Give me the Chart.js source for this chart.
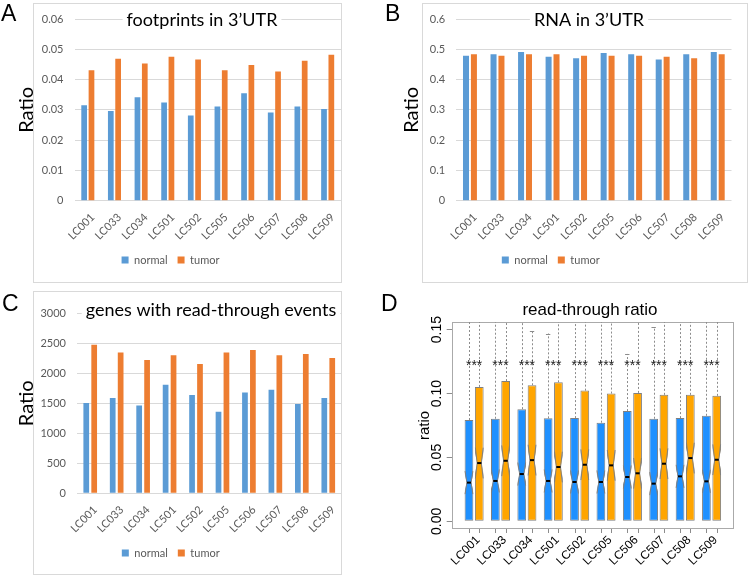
<!DOCTYPE html>
<html><head><meta charset="utf-8">
<script src="https://cdn.jsdelivr.net/npm/chart.js@4.4.0/dist/chart.umd.min.js"></script>
<style>
html,body{margin:0;padding:0;background:#fff;}
body{width:749px;height:577px;position:relative;overflow:hidden;}
canvas{position:absolute;}
.lbl{position:absolute;font-family:"Liberation Sans",Arial,sans-serif;font-size:23px;color:#000;line-height:1;}
</style></head><body>
<canvas id="cA" width="370" height="290" style="left:0;top:0"></canvas>
<canvas id="cB" width="379" height="290" style="left:370px;top:0"></canvas>
<canvas id="cC" width="370" height="287" style="left:0;top:290px"></canvas>
<canvas id="cD" width="379" height="287" style="left:370px;top:290px"></canvas>
<div class="lbl" style="left:1px;top:2px">A</div>
<div class="lbl" style="left:385px;top:2px">B</div>
<div class="lbl" style="left:2px;top:292px">C</div>
<div class="lbl" style="left:381px;top:292px">D</div>
<script>
// ---------- data ----------
const categories = ['LC001','LC033','LC034','LC501','LC502','LC505','LC506','LC507','LC508','LC509'];
const seriesNames = ['normal','tumor'];

const footNormal = [0.0315,0.0296,0.0342,0.0324,0.0281,0.0311,0.0355,0.0291,0.0311,0.0303];
const footTumor  = [0.0431,0.0469,0.0453,0.0475,0.0466,0.0431,0.0448,0.0427,0.0462,0.0482];
const rnaNormal  = [0.479,0.4835,0.491,0.475,0.470,0.488,0.4835,0.466,0.4835,0.491];
const rnaTumor   = [0.4835,0.479,0.4835,0.4835,0.479,0.479,0.479,0.475,0.470,0.4835];
const genesNormal = [1505,1590,1465,1810,1640,1360,1680,1725,1490,1590];
const genesTumor  = [2475,2345,2220,2300,2155,2345,2390,2300,2320,2255];

const ticksA = ['0','0.01','0.02','0.03','0.04','0.05','0.06'];
const ticksB = ['0','0.1','0.2','0.3','0.4','0.5','0.6'];
const ticksC = ['0','500','1000','1500','2000','2500','3000'];
const ticksD = ['0.00','0.05','0.10','0.15'];

// read-through ratio boxplots
const rtNormalQ1  = [0,0,0,0,0,0,0,0,0,0];
const rtNormalMed = [0.0303,0.0316,0.0370,0.0316,0.0308,0.0308,0.0347,0.0295,0.0352,0.0313];
const rtNormalQ3  = [0.0793,0.0803,0.0878,0.0806,0.0808,0.0772,0.0863,0.0803,0.0808,0.0826];
const rtNormalWhisker = [0.17,0.17,0.17,0.147,0.17,0.17,0.131,0.152,0.17,0.17];
const rtTumorQ1   = [0,0,0,0,0,0,0,0,0,0];
const rtTumorMed  = [0.0456,0.0474,0.0479,0.0425,0.0443,0.0438,0.0376,0.0451,0.0495,0.0482];
const rtTumorQ3   = [0.1052,0.1098,0.1065,0.1088,0.1023,0.1000,0.1005,0.0990,0.0990,0.0982];
const rtTumorWhisker = [0.17,0.17,0.149,0.17,0.17,0.17,0.17,0.17,0.17,0.17];
const notchNormal = 0.009;
const notchTumor = 0.012;
const sigLabels = ['***','***','***','***','***','***','***','***','***','***'];
const sigLevel = 0.125;

// ---------- styling ----------
const FX = 'Lato, "Open Sans", sans-serif';
const FR = '"Liberation Sans", Arial, sans-serif';
const GRAY = '#595959';

const decorPlugin = {
  id: 'decor',
  beforeDraw(chart, args, o) {
    const ctx = chart.ctx;
    ctx.save();
    ctx.fillStyle = '#fff';
    ctx.fillRect(0, 0, chart.width, chart.height);
    if (o.frame) {
      const a = chart.chartArea;
      const f = o.frame === 'area' ? [a.left, a.top, a.right, a.bottom] : o.frame;
      ctx.strokeStyle = o.frameColor || '#D9D9D9';
      ctx.lineWidth = 1;
      ctx.strokeRect(Math.round(f[0]) + 0.5, Math.round(f[1]) + 0.5, Math.round(f[2] - f[0]) - 1, Math.round(f[3] - f[1]) - 1);
    }
    ctx.restore();
  },
  afterDraw(chart, args, o) {
    if (!o.title) return;
    const ctx = chart.ctx;
    ctx.save();
    ctx.font = o.titleFont;
    const w = ctx.measureText(o.title).width;
    if (o.titleBg) {
      ctx.fillStyle = '#fff';
      ctx.fillRect(o.titleX - w / 2 - 4, o.titleY - o.titleSize, w + 8, o.titleSize * 1.25);
    }
    ctx.fillStyle = '#000';
    ctx.textAlign = 'center';
    ctx.textBaseline = 'alphabetic';
    ctx.fillText(o.title, o.titleX, o.titleY);
    ctx.restore();
  }
};

const boxPlugin = {
  id: 'boxplot',
  afterDatasetsDraw(chart, args, o) {
    if (!o.groups) return;
    const ctx = chart.ctx, ys = chart.scales.y, xs = chart.scales.x, area = chart.chartArea;
    o.groups.forEach((g, di) => {
      const meta = chart.getDatasetMeta(di);
      meta.data.forEach((el, i) => {
        const w = el.width, cx = el.x, L = cx - w / 2, R = cx + w / 2;
        const yM = ys.getPixelForValue(g.med[i]);
        const yT = ys.getPixelForValue(g.med[i] + g.notch);
        const yB = ys.getPixelForValue(g.med[i] - g.notch);
        const inn = w * 0.24;
        ctx.save();
        ctx.fillStyle = '#fff';
        ctx.beginPath(); ctx.moveTo(L - 1, yT); ctx.lineTo(cx - inn, yM); ctx.lineTo(L - 1, yB); ctx.closePath(); ctx.fill();
        ctx.beginPath(); ctx.moveTo(R + 1, yT); ctx.lineTo(cx + inn, yM); ctx.lineTo(R + 1, yB); ctx.closePath(); ctx.fill();
        ctx.strokeStyle = '#808080'; ctx.lineWidth = 1;
        ctx.beginPath(); ctx.moveTo(L + 0.5, yT); ctx.lineTo(cx - inn, yM); ctx.lineTo(L + 0.5, yB); ctx.stroke();
        ctx.beginPath(); ctx.moveTo(R - 0.5, yT); ctx.lineTo(cx + inn, yM); ctx.lineTo(R - 0.5, yB); ctx.stroke();
        ctx.strokeStyle = '#000'; ctx.lineWidth = 2;
        ctx.beginPath(); ctx.moveTo(cx - inn, yM); ctx.lineTo(cx + inn, yM); ctx.stroke();
        // whisker
        ctx.beginPath(); ctx.rect(area.left, area.top, area.right - area.left, area.bottom - area.top); ctx.clip();
        const yW = ys.getPixelForValue(g.whisker[i]);
        const px = Math.round(cx) + 0.5;
        ctx.strokeStyle = '#8c8c8c'; ctx.lineWidth = 1; ctx.setLineDash([2, 2]);
        ctx.beginPath(); ctx.moveTo(px, el.y); ctx.lineTo(px, yW); ctx.stroke();
        ctx.setLineDash([]);
        ctx.beginPath(); ctx.moveTo(cx - w / 4, Math.round(yW) + 0.5); ctx.lineTo(cx + w / 4, Math.round(yW) + 0.5); ctx.stroke();
        ctx.restore();
        // tick mark under the box
        ctx.save();
        ctx.strokeStyle = '#8c8c8c'; ctx.lineWidth = 1;
        ctx.beginPath(); ctx.moveTo(px, area.bottom); ctx.lineTo(px, area.bottom + 4); ctx.stroke();
        ctx.restore();
      });
    });
    // significance stars
    ctx.save();
    ctx.font = '14px ' + FR;
    ctx.fillStyle = '#222';
    ctx.textAlign = 'center';
    ctx.textBaseline = 'alphabetic';
    const ySig = ys.getPixelForValue(o.sigLevel);
    o.sig.forEach((s, i) => ctx.fillText(s, xs.getPixelForValue(i), ySig + 8));
    ctx.restore();
  }
};

function excelChart(id, normal, tumor, tickLabels, yMax, step, g) {
  return new Chart(document.getElementById(id), {
    type: 'bar',
    data: {
      labels: categories,
      datasets: [
        { label: seriesNames[0], data: normal, backgroundColor: '#5B9BD5', borderWidth: 0,
          categoryPercentage: g.catPct, barPercentage: g.barPct },
        { label: seriesNames[1], data: tumor, backgroundColor: '#ED7D31', borderWidth: 0,
          categoryPercentage: g.catPct, barPercentage: g.barPct }
      ]
    },
    options: {
      responsive: false, animation: false, devicePixelRatio: 1,
      layout: { padding: { left: 0, top: g.top, right: g.W - g.right, bottom: g.padB } },
      plugins: {
        legend: { position: 'bottom', labels: { boxWidth: 7, boxHeight: 7, padding: 10, color: GRAY, font: { family: FX, size: 11 } } },
        tooltip: { enabled: false },
        decor: { frame: g.frame, title: g.title, titleX: g.titleX, titleY: g.titleY, titleSize: 18,
                 titleFont: '18px ' + FX, titleBg: true }
      },
      scales: {
        x: {
          grid: { display: false, drawTicks: false }, border: { display: false },
          ticks: { minRotation: 45, maxRotation: 45, autoSkip: false, color: GRAY, font: { family: FX, size: 11 },
                   padding: g.labelPad, labelOffset: g.labelOffset },
          afterFit(s) { s.height = g.xh; }
        },
        y: {
          min: 0, max: yMax,
          ticks: { stepSize: step, color: GRAY, font: { family: FX, size: 11 }, padding: 11,
                   callback: (v) => tickLabels[Math.round(v / step)] },
          grid: { color: '#D9D9D9', drawTicks: false },
          border: { display: false },
          title: { display: true, text: 'Ratio', color: '#000', font: { family: FX, size: 20 },
                   padding: { top: g.ratioPad, bottom: 0 } },
          afterFit(s) { s.width = g.left; }
        }
      }
    },
    plugins: [decorPlugin]
  });
}

function build() {
  excelChart('cA', footNormal, footTumor, ticksA, 0.06, 0.01, {
    W: 370, left: 74.5, right: 341, top: 19, padB: 14.5, xh: 43.8,
    catPct: 0.55, barPct: 0.78, labelPad: 10, labelOffset: 5, ratioPad: 15,
    frame: [33, 3, 342, 283], title: 'footprints in 3\u2019UTR', titleX: 202, titleY: 26
  });
  excelChart('cB', rnaNormal, rnaTumor, ticksB, 0.6, 0.1, {
    W: 379, left: 86.2, right: 361.5, top: 19, padB: 14.5, xh: 43.8,
    catPct: 0.575, barPct: 0.76, labelPad: 10, labelOffset: 5, ratioPad: 29.5,
    frame: [51.5, 3, 377, 283], title: 'RNA in 3\u2019UTR', titleX: 219, titleY: 26
  });
  excelChart('cC', genesNormal, genesTumor, ticksC, 3000, 500, {
    W: 370, left: 77, right: 341.5, top: 23.3, padB: 8.5, xh: 44.2,
    catPct: 0.6, barPct: 0.72, labelPad: 10, labelOffset: 5, ratioPad: 14.7,
    frame: [33, 1, 342, 285], title: 'genes with read-through events', titleX: 211, titleY: 26
  });

  new Chart(document.getElementById('cD'), {
    type: 'bar',
    data: {
      datasets: [
        { label: seriesNames[0], data: categories.map((c, i) => ({ x: i, y: [rtNormalQ1[i], rtNormalQ3[i]] })),
          backgroundColor: '#1E90FF', borderColor: '#808080', borderWidth: 1, borderSkipped: false,
          categoryPercentage: 0.78, barPercentage: 0.85 },
        { label: seriesNames[1], data: categories.map((c, i) => ({ x: i, y: [rtTumorQ1[i], rtTumorQ3[i]] })),
          backgroundColor: '#FFA500', borderColor: '#808080', borderWidth: 1, borderSkipped: false,
          categoryPercentage: 0.78, barPercentage: 0.85 }
      ]
    },
    options: {
      responsive: false, animation: false, devicePixelRatio: 1,
      layout: { padding: { left: 0, top: 32, right: 15, bottom: 8 } },
      plugins: {
        legend: { display: false }, tooltip: { enabled: false },
        decor: { frame: 'area', frameColor: '#aaaaaa', title: 'read-through ratio', titleX: 220, titleY: 24.5,
                 titleSize: 17, titleFont: '17px ' + FR, titleBg: false },
        boxplot: {
          groups: [
            { med: rtNormalMed, notch: notchNormal, whisker: rtNormalWhisker },
            { med: rtTumorMed, notch: notchTumor, whisker: rtTumorWhisker }
          ],
          sig: sigLabels, sigLevel: sigLevel
        }
      },
      scales: {
        x: {
          type: 'linear', min: -0.85, max: 9.85, offset: false,
          grid: { display: false, drawTicks: false }, border: { display: false },
          ticks: { stepSize: 1, includeBounds: false, autoSkip: false, minRotation: 45, maxRotation: 45,
                   color: '#000', font: { family: FR, size: 12 }, padding: 4, labelOffset: 4,
                   callback: (v) => Number.isInteger(v) ? categories[v] : '' },
          afterFit(s) { s.height = 40; }
        },
        y: {
          min: -0.006, max: 0.156,
          ticks: { stepSize: 0.05, includeBounds: false, minRotation: 90, maxRotation: 90, crossAlign: 'center',
                   padding: -4, color: '#000', font: { family: FR, size: 14 },
                   callback: (v) => ticksD[Math.round(v / 0.05)] },
          grid: { drawOnChartArea: false, drawTicks: true, tickLength: 5, color: '#8c8c8c' },
          border: { display: false },
          title: { display: true, text: 'ratio', color: '#000', font: { family: FR, size: 15 },
                   padding: { top: 46, bottom: 0 } },
          afterFit(s) { s.width = 81.7; }
        }
      }
    },
    plugins: [decorPlugin, boxPlugin]
  });
}

const fontLoads = ['11px Lato', '18px Lato', '20px Lato', '14px "Liberation Sans"'].map(f => document.fonts.load(f).catch(() => null));
Promise.all(fontLoads).then(build, build);
</script>
</body></html>
